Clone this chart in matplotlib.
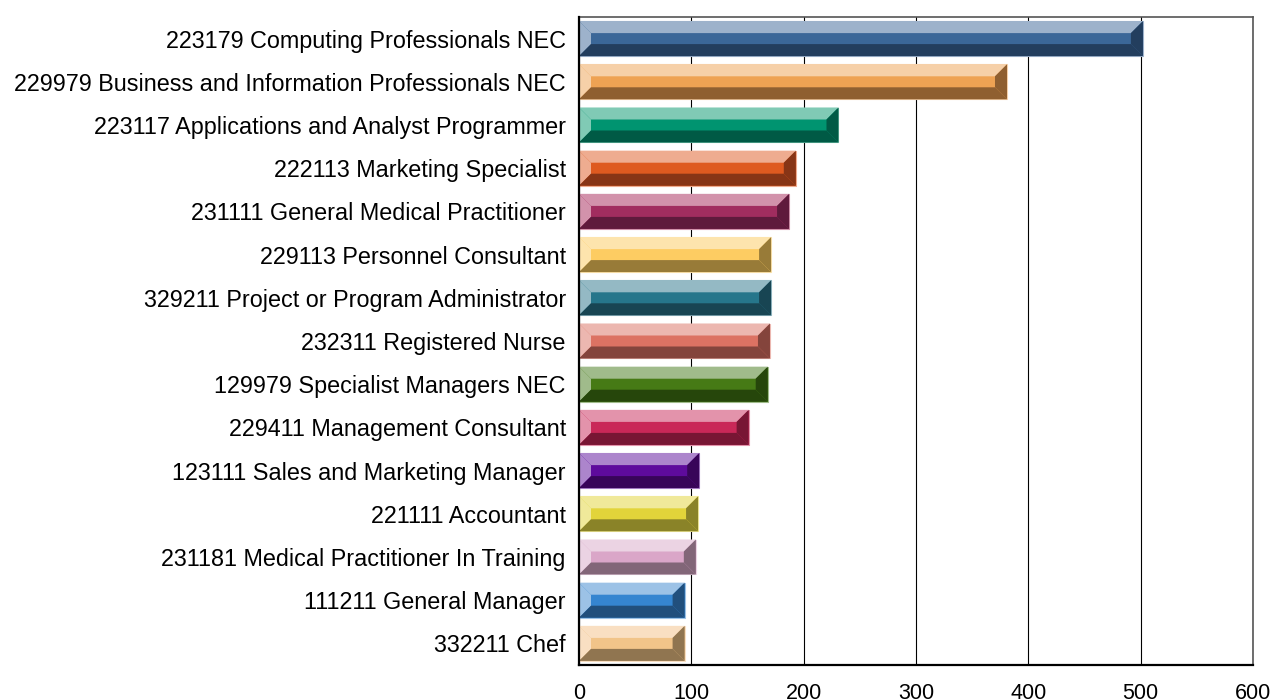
import matplotlib
matplotlib.use("Agg")
from matplotlib import pyplot as plt
from matplotlib.patches import Polygon

plt.rcParams["font.family"] = ["Liberation Sans", "DejaVu Sans"]

# occupations, top to bottom
occupations = [
    "223179 Computing Professionals NEC",
    "229979 Business and Information Professionals NEC",
    "223117 Applications and Analyst Programmer",
    "222113 Marketing Specialist",
    "231111 General Medical Practitioner",
    "229113 Personnel Consultant",
    "329211 Project or Program Administrator",
    "232311 Registered Nurse",
    "129979 Specialist Managers NEC",
    "229411 Management Consultant",
    "123111 Sales and Marketing Manager",
    "221111 Accountant",
    "231181 Medical Practitioner In Training",
    "111211 General Manager",
    "332211 Chef",
]
counts = [502, 381, 231, 193, 187, 171, 171, 170, 168, 151, 107, 106, 104, 94, 94]
x_ticks = [0, 100, 200, 300, 400, 500, 600]

# (light, mid, dark) shade for each bar
shades = [
    ("#9db2cb", "#3b6798", "#233e5e"),
    ("#f6d0a8", "#eea253", "#8f5f30"),
    ("#80cab5", "#009470", "#005a45"),
    ("#eeac90", "#de5a20", "#873516"),
    ("#d292ab", "#a12d5f", "#5f1a3c"),
    ("#fde4ad", "#fdcc62", "#987b38"),
    ("#94b9c4", "#26768b", "#184553"),
    ("#ecb7b0", "#dc7263", "#84443c"),
    ("#a0bb8b", "#467a15", "#26460b"),
    ("#e393ab", "#c92858", "#781634"),
    ("#ac85cc", "#5e0b9c", "#380559"),
    ("#f0e99a", "#e2d43a", "#8a8328"),
    ("#ebd3e3", "#daa6c8", "#826678"),
    ("#9cc2e6", "#3585d0", "#214f7c"),
    ("#f9dfc2", "#f1c489", "#907550"),
]

fig = plt.figure(figsize=(12.73, 7), dpi=100)
ax = fig.add_axes([579 / 1273, 1 - 665 / 700, 674 / 1273, 648 / 700])

n = len(occupations)
ypos = list(range(n))
bar_h = 0.81
ax.set_xlim(0, 600)
ax.set_ylim(n - 0.5, -0.5)

# bevel size, 12 px each way, converted to data units
ax_w_px = 674
ax_h_px = 648
bev_x = 12 * 600 / ax_w_px
bev_y = 12 * n / ax_h_px

for y, val, (light, mid, dark) in zip(ypos, counts, shades):
    ax.barh(y, val, height=bar_h, color=mid, edgecolor=light, linewidth=0.8, zorder=3)
    top = y - bar_h / 2
    bot = y + bar_h / 2
    # top and left faces (light)
    ax.add_patch(Polygon([(0, top), (val, top), (val - bev_x, top + bev_y),
                          (bev_x, top + bev_y)], closed=True, color=light, lw=0, zorder=4))
    ax.add_patch(Polygon([(0, top), (bev_x, top + bev_y), (bev_x, bot - bev_y),
                          (0, bot)], closed=True, color=light, lw=0, zorder=4))
    # bottom and right faces (dark)
    ax.add_patch(Polygon([(0, bot), (bev_x, bot - bev_y), (val - bev_x, bot - bev_y),
                          (val, bot)], closed=True, color=dark, lw=0, zorder=4))
    ax.add_patch(Polygon([(val, top), (val, bot), (val - bev_x, bot - bev_y),
                          (val - bev_x, top + bev_y)], closed=True, color=dark, lw=0, zorder=4))

ax.set_yticks(ypos)
ax.set_yticklabels(occupations, fontsize=16.8)
ax.set_xticks(x_ticks)
ax.set_xticklabels([str(t) for t in x_ticks], fontsize=15.5)
ax.tick_params(axis="y", length=0, pad=9.5)
ax.tick_params(axis="x", length=0, pad=13)

ax.grid(axis="x", color="black", linewidth=0.8, zorder=1)
ax.set_axisbelow(True)
for side in ["top", "right"]:
    ax.spines[side].set_color("#555555")
    ax.spines[side].set_linewidth(1.2)
ax.spines["left"].set_linewidth(1.6)
ax.spines["bottom"].set_linewidth(1.6)
ax.spines["left"].set_zorder(5)

fig.savefig("out.png", dpi=100)
